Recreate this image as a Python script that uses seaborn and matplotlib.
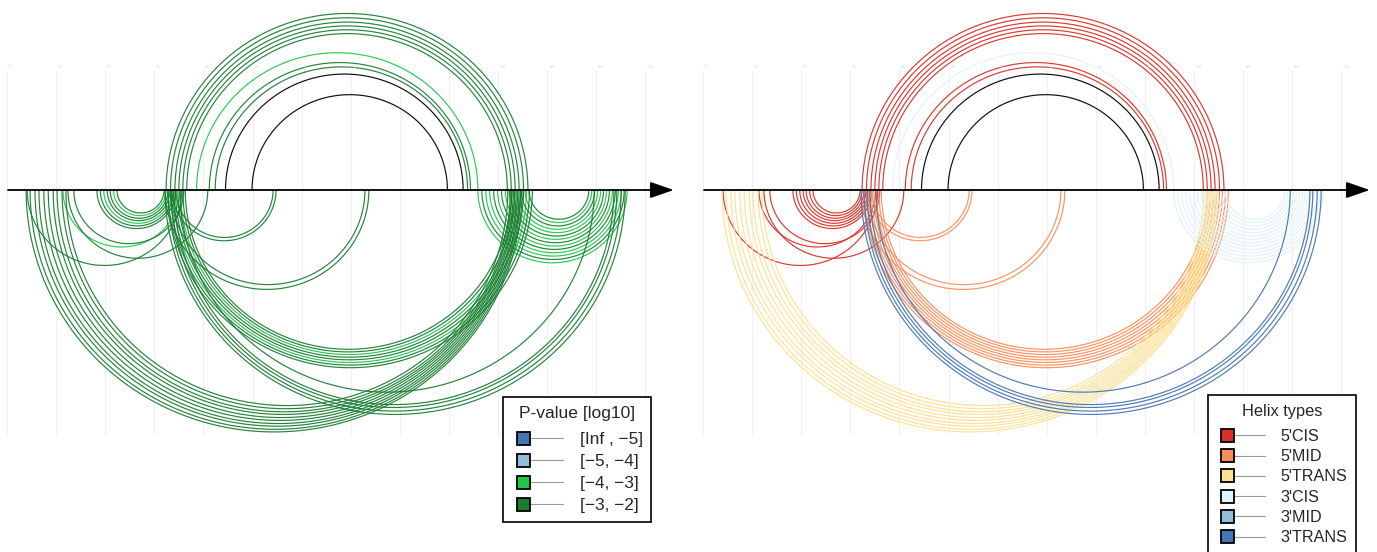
import numpy as np
import pandas as pd
import matplotlib
matplotlib.use("Agg")
import matplotlib.pyplot as plt
from matplotlib.lines import Line2D
from matplotlib.patches import Patch, Rectangle
from matplotlib.legend_handler import HandlerBase
import seaborn as sns

# ---------------------------------------------------------------- data
# Reference (upper) structure: base-pair positions i -> j
top_i = [32.4, 33.3, 34.2, 35.0, 35.8, 36.6, 38.6, 41.2, 42.4, 44.5, 49.9]
top_j = [106.1, 105.2, 104.3, 103.5, 102.7, 101.9, 95.9, 94.4, 93.8, 92.9, 89.7]
top_pval = ["[-3, -2]"] * 6 + ["[-4, -3]", "[-3, -2]", "[-3, -2]", "none", "none"]
top_type = ["5'CIS"] * 6 + ["3'CIS", "5'CIS", "5'CIS", "none", "none"]

# Predicted (lower) structure
bot_i = [18.3, 19.0, 19.7, 20.4, 21.0, 21.7, 22.4,
         4.1, 11.4, 12.4, 13.6,
         3.9, 4.7, 5.7, 6.5, 7.5, 8.4, 9.4, 10.2, 11.2, 12.0,
         33.6, 34.4,
         32.2, 33.4,
         32.8, 33.3, 33.8, 34.3, 34.8, 35.3, 35.8, 36.3,
         32.2, 32.8, 33.4, 34.0, 35.2,
         95.9, 96.7, 97.5, 98.3, 99.1, 99.9, 100.7, 101.5, 102.3, 103.1, 103.9, 104.7, 105.5, 106.3]
bot_j = [34.4, 34.0, 33.6, 33.2, 32.8, 32.4, 32.0,
         35.6, 35.2, 40.9, 36.0,
         104.9, 104.6, 104.3, 104.0, 103.7, 103.4, 103.1, 102.8, 102.5, 102.0,
         54.8, 54.2,
         73.7, 72.9,
         107.0, 106.4, 105.8, 105.2, 104.6, 104.0, 103.4, 102.8,
         125.9, 125.1, 124.2, 123.6, 119.6,
         126.3, 125.7, 125.1, 124.5, 123.9, 123.3, 122.7, 122.1, 121.5, 120.9, 120.3, 119.7, 119.1, 118.5]
bot_type = (["5'CIS"] * 7 + ["5'CIS"] * 4 + ["5'TRANS"] * 10 + ["5'MID"] * 2
            + ["5'MID"] * 2 + ["5'MID"] * 8 + ["3'TRANS"] * 5 + ["3'CIS"] * 14)
bot_pval = (["[-3, -2]", "[-3, -2]", "[-4, -3]", "[-3, -2]", "[-3, -2]", "[-4, -3]", "[-3, -2]"]
            + ["[-3, -2]", "[-4, -3]", "[-3, -2]", "[-3, -2]"]
            + ["[-3, -2]"] * 10 + ["[-3, -2]"] * 2 + ["[-3, -2]"] * 2
            + ["[-3, -2]", "[-3, -2]", "[-4, -3]", "[-3, -2]", "[-3, -2]", "[-4, -3]", "[-3, -2]", "[-3, -2]"]
            + ["[-3, -2]"] * 5
            + ["[-4, -3]", "[-3, -2]", "[-4, -3]", "[-4, -3]", "[-3, -2]", "[-4, -3]", "[-3, -2]",
               "[-4, -3]", "[-3, -2]", "[-4, -3]", "[-4, -3]", "[-3, -2]", "[-4, -3]", "[-3, -2]"])

pval_labels = ["[Inf , \u22125]", "[\u22125, \u22124]", "[\u22124, \u22123]", "[\u22123, \u22122]"]
pval_keys = ["[Inf, -5]", "[-5, -4]", "[-4, -3]", "[-3, -2]"]
pval_colors = ["#4575b4", "#91bfdb", "#20c84a", "#1a7d32"]

helix_labels = ["5'CIS", "5'MID", "5'TRANS", "3'CIS", "3'MID", "3'TRANS"]
helix_colors = ["#d73027", "#fc8d59", "#fee090", "#e0f3f8", "#91bfdb", "#4575b4"]

tick_values = list(range(0, 131, 10))

# ---------------------------------------------------------------- arcs
Y_SCALE = 4.85 / 4.91   # vertical units per horizontal unit


def arc_frame(i_list, j_list, sides, keys, n=140):
    rows = []
    theta = np.linspace(0, np.pi, n)
    for k, (i, j, s, key) in enumerate(zip(i_list, j_list, sides, keys)):
        c, r = (i + j) / 2, abs(j - i) / 2
        xs = c - r * np.cos(theta)
        ys = s * r * np.sin(theta) * Y_SCALE
        rows.append(pd.DataFrame({"x": xs, "y": ys, "arc": k, "group": key}))
    return pd.concat(rows, ignore_index=True)


all_i = top_i + bot_i
all_j = top_j + bot_j
sides = [1] * len(top_i) + [-1] * len(bot_i)

df_p = arc_frame(all_i, all_j, sides, top_pval + bot_pval)
df_h = arc_frame(all_i, all_j, sides, top_type + bot_type)

pal_p = dict(zip(pval_keys, pval_colors))
pal_p["none"] = "black"
pal_h = dict(zip(helix_labels, helix_colors))
pal_h["none"] = "black"


class SquareLineHandler(HandlerBase):
    """Legend key: black-edged square followed by a thin grey line."""

    def __init__(self, offset=3.6, size=9.4, **kw):
        super().__init__(**kw)
        self.offset = offset
        self.size = size

    def create_artists(self, legend, orig_handle, xdescent, ydescent,
                       width, height, fontsize, trans):
        y = height / 2 - ydescent
        x0 = -xdescent + self.offset
        s = self.size
        line = Line2D([x0 + s, -xdescent + width], [y, y],
                      color="#9a9a9a", lw=0.8, transform=trans)
        rect = Rectangle((x0, y - s / 2), s, s,
                         facecolor=orig_handle.get_facecolor(),
                         edgecolor="black", lw=1.3, transform=trans)
        return [line, rect]


sns.set_theme(style="white")
plt.rcParams["font.family"] = ["Liberation Sans", "DejaVu Sans"]

W, H = 1377, 552
fig = plt.figure(figsize=(W / 100, H / 100), dpi=100)
PX = 4.91
ax_l = fig.add_axes([0, 0, 690 / W, 1])
ax_r = fig.add_axes([696 / W, 0, 681 / W, 1])

for ax, df, pal, width in [(ax_l, df_p, pal_p, 690), (ax_r, df_h, pal_h, 681)]:
    ax.set_xlim(-7 / PX, (width - 7) / PX)
    ax.set_ylim(-(H - 190) / 4.85, 190 / 4.85)
    ax.axis("off")
    ax.vlines(tick_values, -(435 - 190) / 4.85, (190 - 70) / 4.85,
              color="#f0f0f0", lw=0.8, zorder=0)
    for t in tick_values:
        ax.text(t + 0.4, (190 - 70) / 4.85 + 0.3, str(t), fontsize=3,
                color="#d8d8d8", ha="left", va="bottom")
    order = [g for g in pal if g in set(df["group"])]
    for g in order:
        sub = df[df["group"] == g]
        sns.lineplot(data=sub, x="x", y="y", units="arc", estimator=None,
                     sort=False, color=pal[g], lw=0.85, alpha=0.95, ax=ax,
                     legend=False)
    ax.annotate("", xy=(135.8, 0), xytext=(0.2, 0),
                arrowprops=dict(arrowstyle="-|>,head_length=1.45,head_width=0.5",
                                mutation_scale=10, lw=1.3, color="black",
                                shrinkA=0, shrinkB=0))
    ax.set_xlabel("")
    ax.set_ylabel("")

common = dict(frameon=True, fancybox=False, edgecolor="black", loc="upper left",
              bbox_transform=fig.transFigure, borderaxespad=0)

lg1 = ax_l.legend([Patch(facecolor=c) for c in pval_colors], pval_labels,
                  title="P-value [log10]", fontsize=12.4, title_fontsize=12.6,
                  handler_map={Patch: SquareLineHandler(offset=3.6, size=9.4)},
                  handlelength=3.0, handletextpad=0.95, borderpad=0.5,
                  labelspacing=0.4, bbox_to_anchor=(503 / W, 1 - 397 / H), **common)
lg1._legend_box.sep = 8.4

lg2 = ax_r.legend([Patch(facecolor=c) for c in helix_colors], helix_labels,
                  title="Helix types", fontsize=11.6, title_fontsize=11.8,
                  handler_map={Patch: SquareLineHandler(offset=2.9, size=9.4)},
                  handlelength=3.0, handletextpad=0.96, borderpad=0.55,
                  labelspacing=0.33, bbox_to_anchor=(1208 / W, 1 - 395 / H), **common)
lg2._legend_box.sep = 7.2

for lg in (lg1, lg2):
    lg.get_frame().set_linewidth(1.2)
    lg.get_frame().set_alpha(1)

fig.savefig("out.png", dpi=100)
